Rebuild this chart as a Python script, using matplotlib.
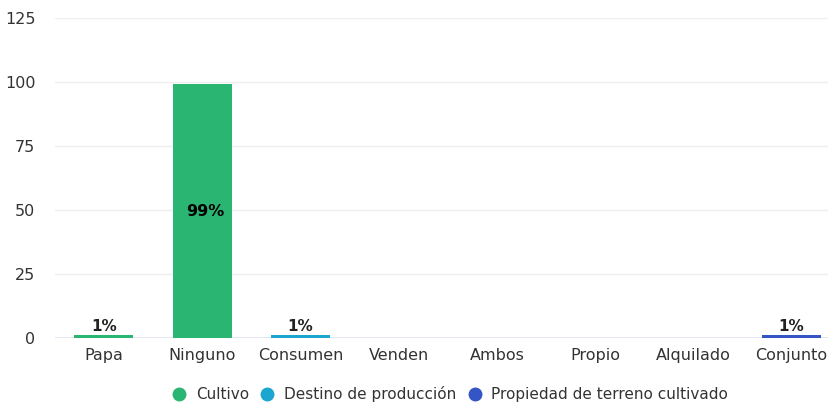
import numpy as np
import matplotlib
matplotlib.use("Agg")
import matplotlib.pyplot as plt
from matplotlib.lines import Line2D

plt.rcParams['font.family'] = ['DejaVu Sans']

# ---- data ----
categorias = ["Papa", "Ninguno", "Consumen", "Venden", "Ambos", "Propio", "Alquilado", "Conjunto"]
cultivo = [1, 99, np.nan, np.nan, np.nan, np.nan, np.nan, np.nan]
destino = [np.nan, np.nan, 1, 0, 0, np.nan, np.nan, np.nan]
propiedad = [np.nan, np.nan, np.nan, np.nan, np.nan, 0, 0, 1]
series_names = ["Cultivo", "Destino de producción", "Propiedad de terreno cultivado"]
colores = ["#2bb572", "#1ba6cf", "#3355c5"]

fig = plt.figure(figsize=(8.29, 4.07), dpi=100)
ax = fig.add_axes([0.066, 0.17, 0.934, 0.786])

x = np.arange(len(categorias))
for vals, col in zip([cultivo, destino, propiedad], colores):
    v = np.array(vals, dtype=float)
    bars = ax.bar(x, np.nan_to_num(v), width=0.6, color=col, zorder=3)
    for xi, val in zip(x, v):
        if np.isnan(val) or val == 0:
            continue
        if val > 10:
            ax.text(xi + 0.03, val / 2, f"{val:.0f}%", ha="center", va="center",
                    fontsize=11.5, fontweight="bold", color="black", zorder=4)
        else:
            ax.text(xi, val + 0.3, f"{val:.0f}%", ha="center", va="bottom",
                    fontsize=11, fontweight="bold", color="#222222", zorder=4)

ax.set_xlim(-0.5, 7.38)
ax.set_ylim(0, 125)
ax.set_yticks([0, 25, 50, 75, 100, 125])
ax.set_xticks(x)
ax.set_xticklabels(categorias)
ax.tick_params(axis="both", length=0, labelsize=11.5, colors="#333333")
ax.tick_params(axis="y", pad=14)
ax.tick_params(axis="x", pad=7)
ax.grid(axis="y", color="#eeeeee", linewidth=1, zorder=0)
ax.axhline(0, color="#dfe4f0", linewidth=1.2, zorder=2)
for s in ax.spines.values():
    s.set_visible(False)

handles = [Line2D([], [], marker="o", linestyle="", markersize=9, color=c) for c in colores]
fig.legend(handles, series_names, loc="center", bbox_to_anchor=(0.538, 0.032), ncol=3,
           frameon=False, fontsize=11, handletextpad=0.1, columnspacing=0.2,
           labelcolor="#333333")

fig.savefig("out.png", dpi=100)
